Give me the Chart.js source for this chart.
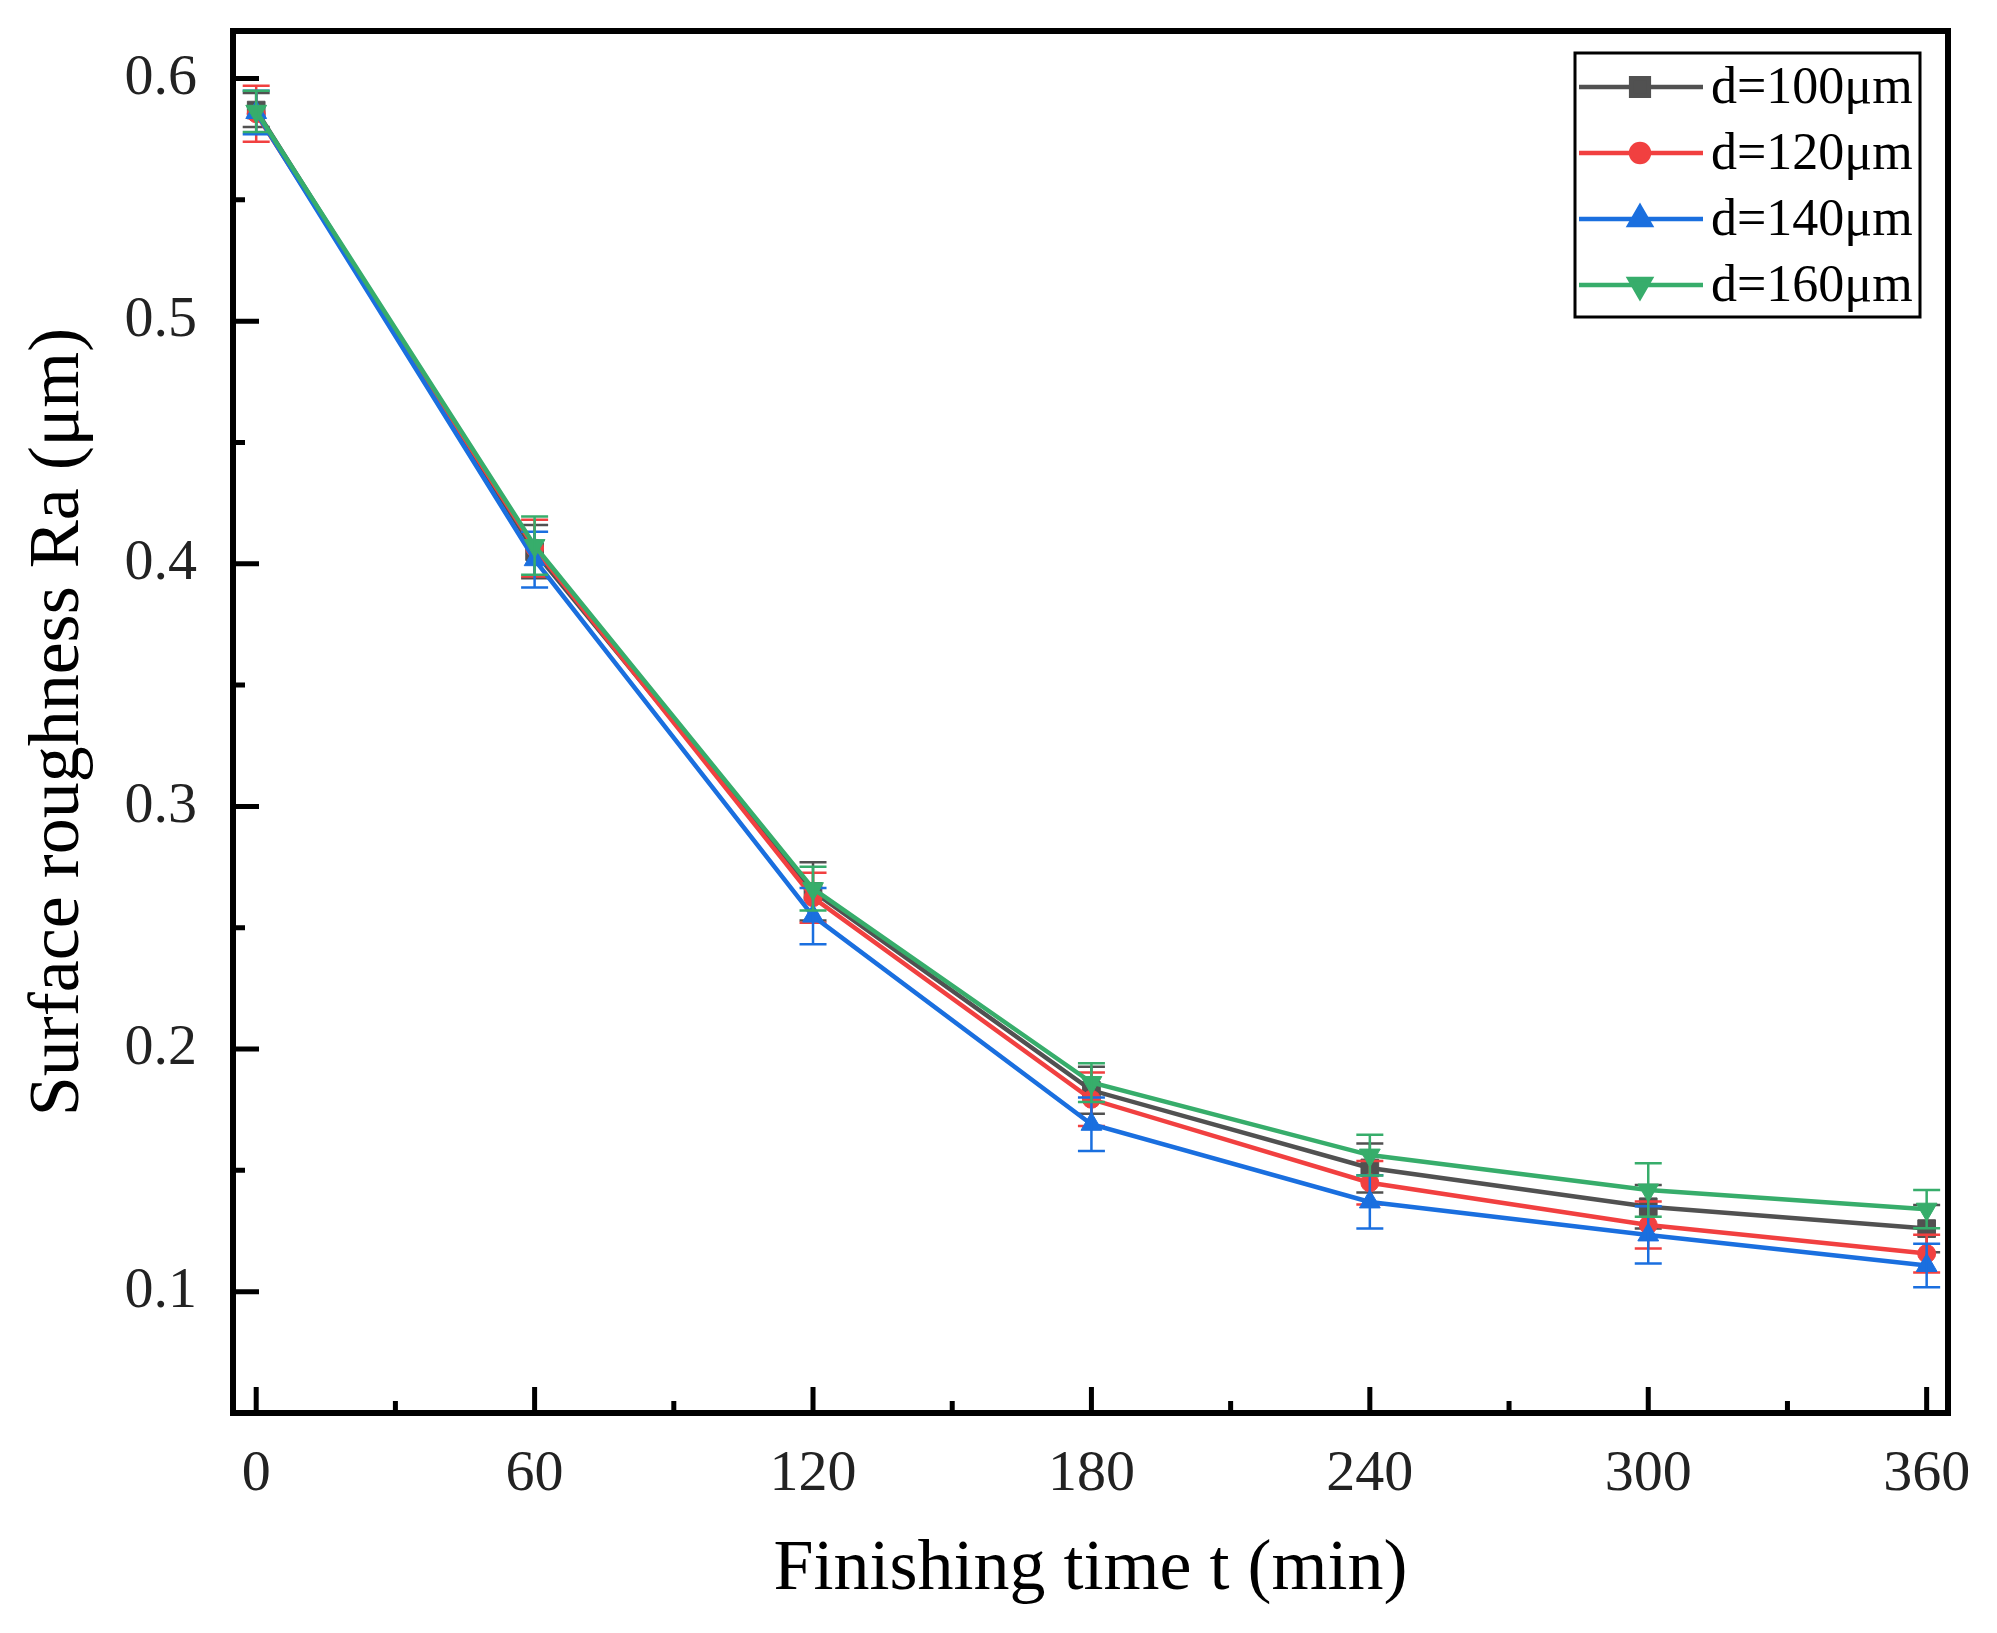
<!DOCTYPE html>
<html>
<head>
<meta charset="utf-8">
<title>Surface roughness vs finishing time</title>
<script src="https://cdn.jsdelivr.net/npm/chart.js@4.4.0/dist/chart.umd.min.js"></script>
<style>
  html, body { margin: 0; padding: 0; background: #fff; }
  #chart { display: block; }
</style>
</head>
<body>
<canvas id="chart" width="1997" height="1633" style="width:1997px;height:1633px"></canvas>
<script>
// Finishing time (min)
const times = [0, 60, 120, 180, 240, 300, 360];

// Surface roughness Ra (um) for each abrasive size, plus error bars
const ra100 = [0.587, 0.405, 0.265, 0.183, 0.151, 0.135, 0.126];
const err100 = [0.007, 0.011, 0.012, 0.0097, 0.0101, 0.009, 0.0097];
const ra120 = [0.5855, 0.4065, 0.2624, 0.1793, 0.1449, 0.1275, 0.1157];
const err120 = [0.0115, 0.0117, 0.0103, 0.011, 0.009, 0.0097, 0.0078];
const ra140 = [0.586, 0.4017, 0.2548, 0.169, 0.137, 0.1234, 0.1108];
const err140 = [0.009, 0.0115, 0.0116, 0.011, 0.011, 0.0118, 0.009];
const ra160 = [0.5865, 0.4075, 0.2661, 0.1862, 0.1563, 0.1419, 0.134];
const err160 = [0.0085, 0.012, 0.009, 0.008, 0.0084, 0.011, 0.0079];

// Axis ticks
const xTicks = [0, 60, 120, 180, 240, 300, 360];
const xMinor = [30, 90, 150, 210, 270, 330];
const yTicks = [0.1, 0.2, 0.3, 0.4, 0.5, 0.6];
const yMinor = [0.15, 0.25, 0.35, 0.45, 0.55];

const serif = "'Liberation Serif', 'DejaVu Serif', serif";

function points(values) {
    return times.map((t, i) => ({ x: t, y: values[i] }));
}

function series(label, values, errors, color, style, radius, rotation, order) {
    return {
        label: label,
        data: points(values),
        errors: errors,
        borderColor: color,
        backgroundColor: color,
        borderWidth: 4.5,
        pointStyle: style,
        pointRadius: radius,
        pointRotation: rotation,
        pointBorderWidth: 1,
        tension: 0,
        order: order
    };
}

const datasets = [
    series('d=100\u03bcm', ra100, err100, '#515151', 'rect', 12.5, 0, 4),
    series('d=120\u03bcm', ra120, err120, '#F14040', 'circle', 9, 0, 3),
    series('d=140\u03bcm', ra140, err140, '#1A6FDF', 'triangle', 12, 0, 2),
    series('d=160\u03bcm', ra160, err160, '#37AD6B', 'triangle', 12, 180, 1)
];

// Error bars drawn with the chart's own scales
const errorBars = {
    id: 'errorBars',
    afterDatasetDraw(chart, args) {
        const ds = chart.data.datasets[args.index];
        const xs = chart.scales.x, ys = chart.scales.y;
        const ctx = chart.ctx;
        ctx.save();
        ctx.strokeStyle = ds.borderColor;
        ctx.lineWidth = 2.5;
        ds.data.forEach((p, i) => {
            const e = ds.errors[i];
            const x = xs.getPixelForValue(p.x);
            const top = ys.getPixelForValue(p.y + e);
            const bot = ys.getPixelForValue(p.y - e);
            ctx.beginPath();
            ctx.moveTo(x, top); ctx.lineTo(x, bot);
            ctx.moveTo(x - 13.5, top); ctx.lineTo(x + 13.5, top);
            ctx.moveTo(x - 13.5, bot); ctx.lineTo(x + 13.5, bot);
            ctx.stroke();
        });
        ctx.restore();
    }
};

// Frame and inward ticks
const frame = {
    id: 'frame',
    afterDraw(chart) {
        const { ctx, chartArea: a } = chart;
        const xs = chart.scales.x, ys = chart.scales.y;
        ctx.save();
        ctx.strokeStyle = '#000';
        ctx.lineWidth = 5;
        ctx.beginPath();
        xTicks.forEach(v => { const x = xs.getPixelForValue(v); ctx.moveTo(x, a.bottom); ctx.lineTo(x, a.bottom - 26); });
        xMinor.forEach(v => { const x = xs.getPixelForValue(v); ctx.moveTo(x, a.bottom); ctx.lineTo(x, a.bottom - 12); });
        yTicks.forEach(v => { const y = ys.getPixelForValue(v); ctx.moveTo(a.left, y); ctx.lineTo(a.left + 26, y); });
        yMinor.forEach(v => { const y = ys.getPixelForValue(v); ctx.moveTo(a.left, y); ctx.lineTo(a.left + 12, y); });
        ctx.stroke();
        ctx.lineWidth = 6;
        ctx.strokeRect(a.left, a.top, a.right - a.left, a.bottom - a.top);
        ctx.restore();
    }
};

// Legend: box with line + marker samples
const legendBox = {
    id: 'legendBox',
    afterDraw(chart) {
        const { ctx, chartArea: a } = chart;
        const boxW = 345, boxH = 264;
        const bx = a.right - 28 - boxW, by = a.top + 22;
        ctx.save();
        ctx.fillStyle = '#fff';
        ctx.fillRect(bx, by, boxW, boxH);
        ctx.strokeStyle = '#000';
        ctx.lineWidth = 3;
        ctx.strokeRect(bx, by, boxW, boxH);
        datasets.forEach((ds, i) => {
            const y = by + 34 + i * 66;
            ctx.strokeStyle = ds.borderColor;
            ctx.lineWidth = 4.5;
            ctx.beginPath();
            ctx.moveTo(bx + 4, y); ctx.lineTo(bx + 128, y);
            ctx.stroke();
            ctx.fillStyle = ds.backgroundColor;
            Chart.helpers.drawPoint(ctx, {
                pointStyle: ds.pointStyle, radius: ds.pointRadius,
                rotation: ds.pointRotation, borderWidth: 1
            }, bx + 65, y);
            ctx.fillStyle = '#000';
            ctx.font = '52px ' + serif;
            ctx.textAlign = 'left';
            ctx.textBaseline = 'middle';
            ctx.fillText(ds.label, bx + 136, y + 2);
        });
        ctx.restore();
    }
};

const ctx = document.getElementById('chart').getContext('2d');
const chart = new Chart(ctx, {
    type: 'line',
    data: { datasets: datasets },
    plugins: [errorBars, frame, legendBox],
    options: {
        responsive: false,
        devicePixelRatio: 1,
        animation: false,
        layout: { padding: { top: 31, right: 49, left: 0, bottom: 0 } },
        plugins: { legend: { display: false }, tooltip: { enabled: false } },
        scales: {
            x: {
                type: 'linear',
                min: -5,
                max: 364.6,
                afterBuildTicks: s => { s.ticks = xTicks.map(v => ({ value: v })); },
                afterFit: s => { s.height = 220; s.paddingLeft = 0; s.paddingRight = 0; },
                grid: { display: false, drawTicks: false },
                border: { display: false },
                ticks: { padding: 27, color: '#222', font: { family: serif, size: 58 }, maxRotation: 0 },
                title: {
                    display: true,
                    text: 'Finishing time t (min)',
                    color: '#000',
                    font: { family: serif, size: 72 },
                    padding: { top: 0, bottom: 20 }
                }
            },
            y: {
                type: 'linear',
                min: 0.05,
                max: 0.6196,
                afterBuildTicks: s => { s.ticks = yTicks.map(v => ({ value: v })); },
                afterFit: s => { s.width = 233; s.paddingTop = 0; s.paddingBottom = 0; },
                grid: { display: false, drawTicks: false },
                border: { display: false },
                ticks: {
                    padding: 36, color: '#222', font: { family: serif, size: 58 },
                    callback: v => v.toFixed(1)
                },
                title: {
                    display: true,
                    text: 'Surface roughness Ra (\u03bcm)',
                    color: '#000',
                    font: { family: serif, size: 72 },
                    padding: { top: 16, bottom: 0 }
                }
            }
        }
    }
});
</script>
</body>
</html>
